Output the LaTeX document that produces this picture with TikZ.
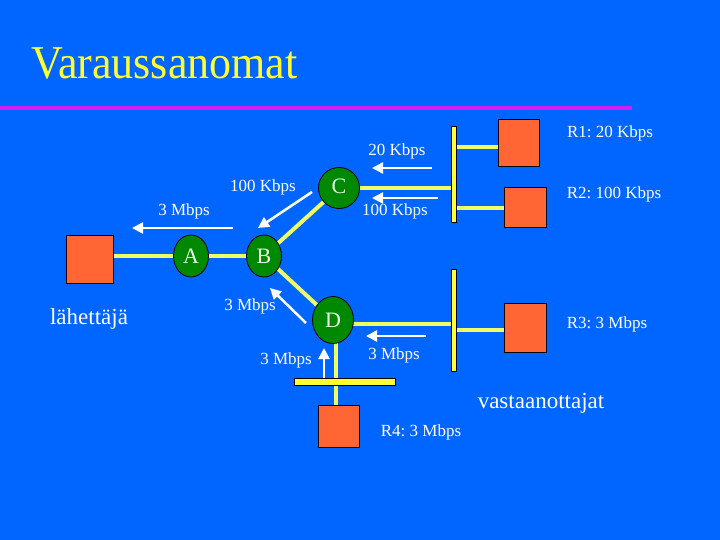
\documentclass[tikz,border=0pt]{standalone}
\usepackage{fontspec}
\usepackage{graphicx}
\setmainfont{Liberation Serif}
\usetikzlibrary{arrows.meta,shapes.geometric}
\definecolor{bgblue}{RGB}{0,102,255}
\definecolor{hostc}{RGB}{255,102,51}
\definecolor{routc}{RGB}{0,136,0}
\definecolor{linkc}{RGB}{238,255,102}
\definecolor{barc}{RGB}{255,255,51}
\definecolor{magc}{RGB}{210,30,240}
\definecolor{titlec}{RGB}{255,255,51}
\definecolor{rtext}{RGB}{230,255,230}
\pgfdeclarelayer{back}
\pgfdeclarelayer{links}
\pgfsetlayers{back,links,main}
\frenchspacing
\begin{document}
\begin{tikzpicture}[x=1pt,y=-1pt,
  host/.style={draw=black,fill=hostc,line width=1pt,inner sep=0},
  router/.style={ellipse,draw=black,fill=routc,line width=0.8pt,inner sep=0,
    text=rtext,font=\fontsize{22}{22}\selectfont},
  link/.style={draw=linkc,line width=4pt},
  bar/.style={draw=black,fill=barc,line width=0.6pt,inner sep=0},
  flow/.style={draw=white,line width=2.5pt,-{Triangle[length=11pt,width=11pt]}},
  lbl/.style={text=white,font=\fontsize{17}{17}\selectfont,inner sep=0},
  big/.style={text=white,font=\fontsize{23}{23}\selectfont,inner sep=0}]
\begin{pgfonlayer}{back}
\useasboundingbox (0,0) rectangle (720,540);
\fill[bgblue] (0,0) rectangle (720,540);
\fill[magc] (0,106) rectangle (632,110);
\end{pgfonlayer}
% title
\node[anchor=base west,inner sep=0,text=titlec] (title) at (31,79)
  {\scalebox{1}[1.07]{\fontsize{44}{44}\selectfont Varaussanomat}};
% hosts
\node[host,minimum width=47,minimum height=48] (S) at (89.5,259) {};
\node[host,minimum width=41,minimum height=47] (R1) at (518.5,143.5) {};
\node[host,minimum width=42,minimum height=40] (R2) at (525,208) {};
\node[host,minimum width=42,minimum height=49] (R3) at (525,327.5) {};
\node[host,minimum width=41,minimum height=42] (R4) at (338.5,426) {};
% routers
\node[router,minimum width=35,minimum height=42] (A) at (191,256) {A};
\node[router,minimum width=35,minimum height=42] (B) at (264,256) {B};
\node[router,minimum width=41,minimum height=41] (C) at (339,188) {\raisebox{3pt}{C}\hspace{6pt}};
\node[router,minimum width=41,minimum height=47] (D) at (333,320) {D\hspace{4pt}};
% bars
\node[bar,minimum width=5,minimum height=96] (bar1) at (453.5,174) {};
\node[bar,minimum width=5,minimum height=102] (bar2) at (453.5,320) {};
\node[bar,minimum width=101,minimum height=7] (bar3) at (344.5,381.5) {};
% link coordinates
\coordinate (r1y) at (0,147);
\coordinate (r2y) at (0,208);
\coordinate (dy) at (0,324);
\coordinate (r3y) at (0,330);
\coordinate (dx) at (336,0);
\begin{pgfonlayer}{links}
\draw[link] (S.east |- A.center) -- (A.center);
\draw[link] (A.center) -- (B.center);
\draw[link] (B.center) -- (C.center);
\draw[link] (B.center) -- (D.center);
\draw[link] (C.center) -- (C.center -| bar1.center);
\draw[link] (bar1.center |- r1y) -- (R1.west |- r1y);
\draw[link] (bar1.center |- r2y) -- (R2.west |- r2y);
\draw[link] (D.center |- dy) -- (bar2.center |- dy);
\draw[link] (bar2.center |- r3y) -- (R3.west |- r3y);
\draw[link] (D.center -| dx) -- (R4.north -| dx);
\end{pgfonlayer}
% flow arrows
\coordinate (f1s) at (233,228); \coordinate (f1e) at (132,228);
\coordinate (f2s) at (312,192); \coordinate (f2e) at (258,228);
\coordinate (f3s) at (432,168); \coordinate (f3e) at (372,168);
\coordinate (f4s) at (438,198); \coordinate (f4e) at (372,198);
\coordinate (f5s) at (306,323); \coordinate (f5e) at (270,288);
\coordinate (f6s) at (324,378); \coordinate (f6e) at (324,348);
\coordinate (f7s) at (426,336); \coordinate (f7e) at (366,336);
\draw[flow] (f1s) -- (f1e);
\draw[flow] (f2s) -- (f2e);
\draw[flow] (f3s) -- (f3e);
\draw[flow] (f4s) -- (f4e);
\draw[flow] (f5s) -- (f5e);
\draw[flow] (f6s) -- (f6e);
\draw[flow] (f7s) -- (f7e);
% labels
\node[lbl] (l1) at (184,211) {3 Mbps};
\node[lbl] (l2) at (263,187) {100 Kbps};
\node[lbl] (l3) at (397,151) {20 Kbps};
\node[lbl] (l4) at (395,211) {100 Kbps};
\node[lbl] (l5) at (610,133) {R1: 20 Kbps};
\node[lbl] (l6) at (614,194) {R2: 100 Kbps};
\node[lbl] (l7) at (250,306) {3 Mbps};
\node[lbl] (l8) at (286,360) {3 Mbps};
\node[lbl] (l9) at (394,355) {3 Mbps};
\node[lbl] (l10) at (607,324) {R3: 3 Mbps};
\node[lbl] (l11) at (421,432) {R4: 3 Mbps};
\node[big] (recv) at (541,403) {vastaanottajat};
\node[big] (send) at (89,319) {lähettäjä};
\end{tikzpicture}
\end{document}
